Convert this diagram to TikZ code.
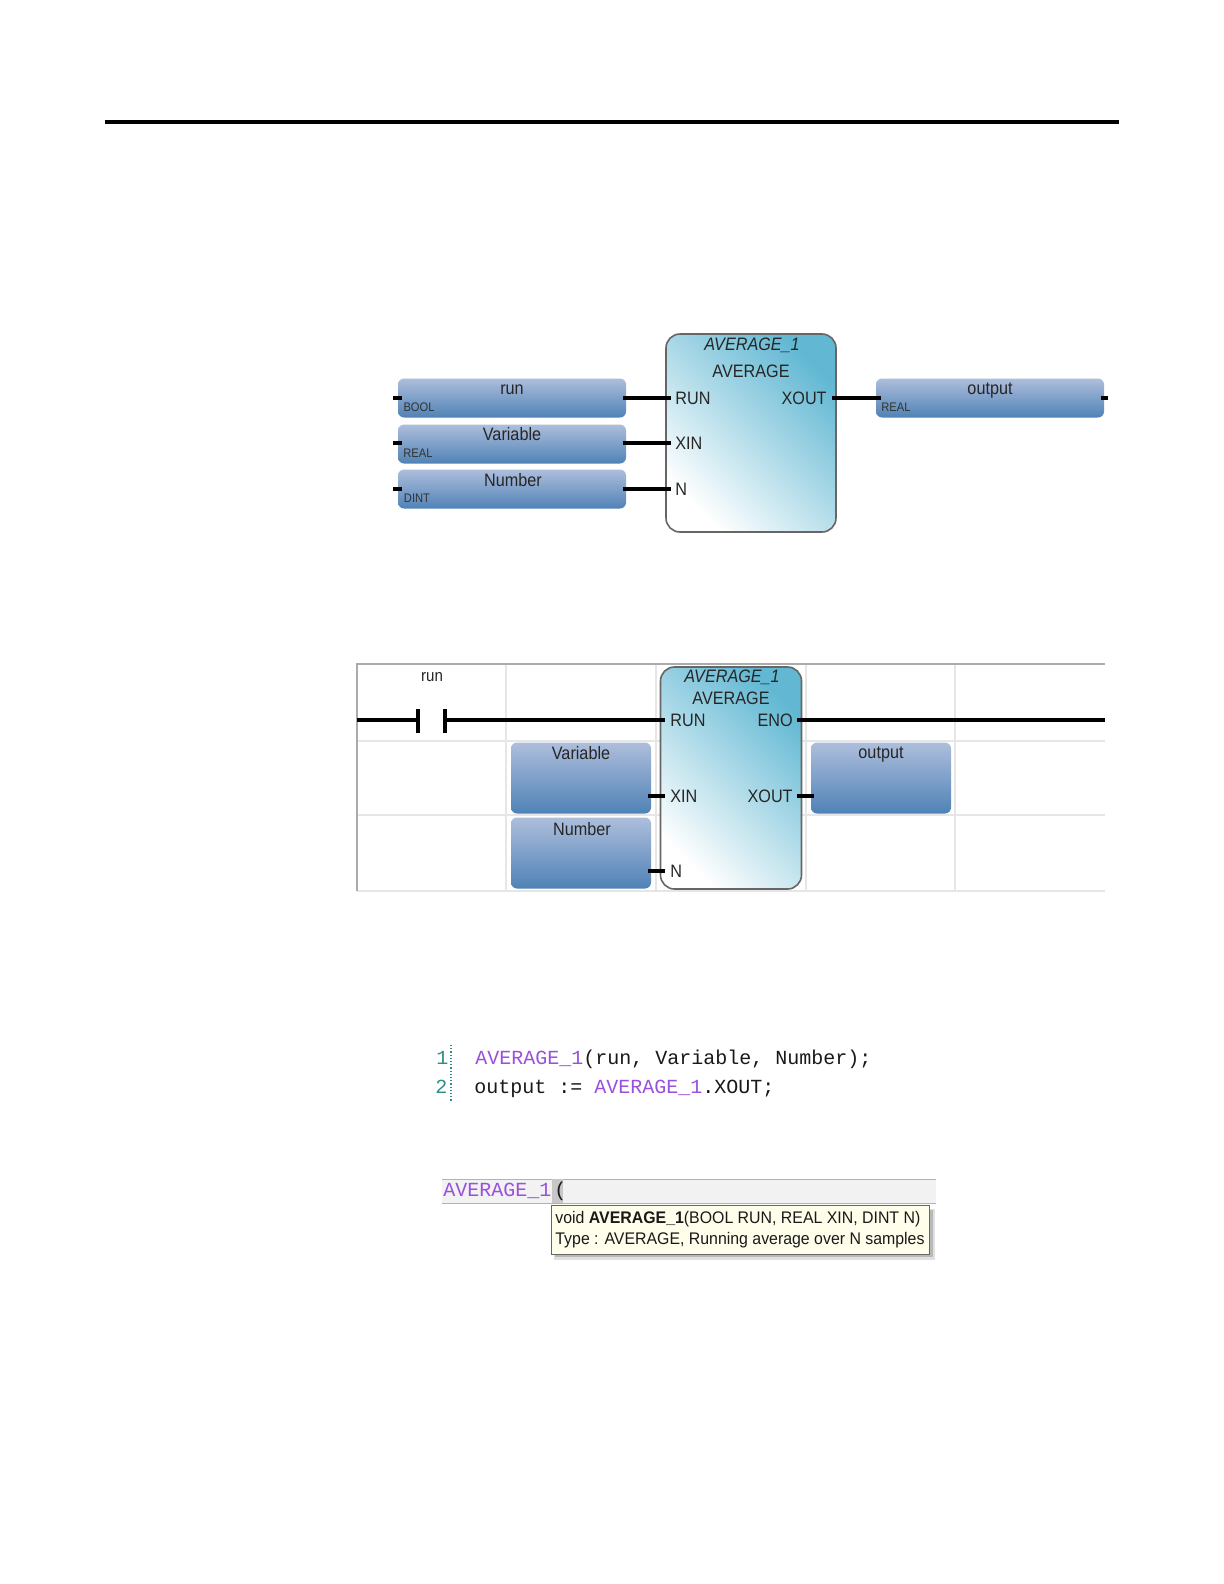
\documentclass[tikz,border=0pt]{standalone}
\usepackage{fontspec}
\setmainfont{Liberation Sans}
\newfontfamily\narrowf[FakeStretch=0.9]{Liberation Sans}
\newfontfamily\codef{Liberation Mono}
\newfontfamily\tipf[FakeStretch=0.945]{Liberation Sans}
\definecolor{codepurple}{HTML}{9A50DC}
\definecolor{linenum}{HTML}{2E8F86}
\definecolor{gridc}{HTML}{E6E6E6}
\definecolor{frameC}{HTML}{ABABAB}
\tikzset{
  x=0.5pt,y=-0.5pt,
  lbl/.style={inner sep=0pt,font=\narrowf\fontsize{9}{10}\selectfont,text=black!85},
  tiny/.style={inner sep=0pt,font=\narrowf\fontsize{6.2}{7}\selectfont,text=black!80},
  ital/.style={inner sep=0pt,font=\narrowf\itshape\fontsize{9}{10}\selectfont,text=black!85},
  varbox/.style={draw=none,inner sep=0pt,rounded corners=3pt,top color=varTop,bottom color=varBot},
  varA/.style={varbox,minimum width=114pt,minimum height=19.5pt},
  varB/.style={varbox,minimum width=70pt,minimum height=35.5pt},
  fblock/.style={draw=black!60,line width=0.8pt,inner sep=0pt,rounded corners=7pt,
     shade,top color=blockTR,middle color=blockM,bottom color=white,shading angle=-45},
  wire/.style={line width=2.1pt,black},
  gridl/.style={line width=0.8pt,gridc},
  code/.style={inner sep=0pt,anchor=base west,font=\codef\fontsize{10}{12}\selectfont,text=black!90},
  tip/.style={inner sep=0pt,anchor=base west,font=\tipf\fontsize{8.4}{10}\selectfont,text=black!90},
}
\definecolor{varTop}{HTML}{AEBEDC}
\definecolor{varBot}{HTML}{4F82B6}
\definecolor{blockTR}{HTML}{62B8D3}
\definecolor{blockM}{HTML}{C6E2EC}
\begin{document}
\begin{tikzpicture}
\useasboundingbox (0,0) rectangle (1224,1584);
\fill[white] (0,0) rectangle (1224,1584);
% top rule
\coordinate (ruleL) at (105,122);
\coordinate (ruleR) at (1119,122);
\draw[line width=1.8pt,black] (ruleL) -- (ruleR);

% ---------- function block diagram
\node[fblock,minimum width=85pt,minimum height=99pt] (avgA) at (751,433) {};
\node[varA] (runA) at (512,398) {};
\node[varA] (varA1) at (512,444) {};
\node[varA] (numA) at (512,489) {};
\node[varA] (outA) at (990,398) {};
\coordinate (pRunA) at (671,398);
\coordinate (pXinA) at (671,443);
\coordinate (pNA) at (671,489);
\coordinate (pXoutA) at (832,398);
\coordinate (sRunA) at (393,398);
\coordinate (sVarA) at (393,443);
\coordinate (sNumA) at (393,489);
\coordinate (sOutA) at (1108,398);
\coordinate (iRunA) at (402,398);
\coordinate (iVarA) at (402,443);
\coordinate (iNumA) at (402,489);
\coordinate (iOutA) at (1101,398);
\coordinate (eRunA) at (623,398);
\coordinate (eVarA) at (623,443);
\coordinate (eNumA) at (623,489);
\coordinate (eOutA) at (881,398);
\draw[wire] (eRunA) -- (pRunA);
\draw[wire] (eVarA) -- (pXinA);
\draw[wire] (eNumA) -- (pNA);
\draw[wire] (pXoutA) -- (eOutA);
\draw[wire] (sRunA) -- (iRunA);
\draw[wire] (sVarA) -- (iVarA);
\draw[wire] (sNumA) -- (iNumA);
\draw[wire] (iOutA) -- (sOutA);
\node[lbl] (tRunA) at (512,390) {run};
\node[lbl] (tVarA) at (512,434) {Variable};
\node[lbl] (tNumA) at (513,480) {Number};
\node[lbl] (tOutA) at (990,391) {output};
\node[tiny] (tBool) at (419,407) {BOOL};
\node[tiny] (tReal) at (418,453) {REAL};
\node[tiny] (tDint) at (417,498) {DINT};
\node[tiny] (tReal2) at (896,407) {REAL};
\node[ital] (tInstA) at (752,345) {AVERAGE\_1};
\node[lbl] (tTypeA) at (751,371) {AVERAGE};
\node[lbl,anchor=west] (lRunA) at (675,398) {RUN};
\node[lbl,anchor=east] (lXoutA) at (827,398) {XOUT};
\node[lbl,anchor=west] (lXinA) at (675,443) {XIN};
\node[lbl,anchor=west] (lNA) at (675,489) {N};

% ---------- ladder diagram
\coordinate (gT) at (357,664);
\coordinate (gTR) at (1105,664);
\coordinate (gBL) at (357,891);
\coordinate (gBR) at (1105,891);
\foreach \gx in {506,656,806,955}{
  \draw[gridl] (\gx,664) -- (\gx,891);
}
\draw[gridl,line width=1.2pt] (357,741) -- (1105,741);
\draw[gridl,line width=1.2pt] (357,815) -- (1105,815);
\draw[gridl] (gBL) -- (gBR);
\draw[frameC,line width=0.6pt] (gBL) -- (gT) -- (gTR);
\node[fblock,minimum width=70.5pt,minimum height=111pt] (avgB) at (731,778) {};
\node[varB] (varB1) at (581,778) {};
\node[varB] (numB) at (581,853) {};
\node[varB] (outB) at (881,778) {};
\coordinate (wL) at (357,720);
\coordinate (c1) at (418,720);
\coordinate (c2) at (445,720);
\coordinate (c1t) at (418,709);
\coordinate (c1b) at (418,733);
\coordinate (c2t) at (445,709);
\coordinate (c2b) at (445,733);
\coordinate (pRunB) at (665,720);
\coordinate (pEnoB) at (797,720);
\coordinate (wR) at (1105,720);
\coordinate (sXin) at (648,796);
\coordinate (pXin) at (665,796);
\coordinate (pXout) at (797,796);
\coordinate (sXout) at (814,796);
\coordinate (sN) at (648,871);
\coordinate (pN) at (665,871);
\draw[wire] (wL) -- (c1);
\draw[wire] (c2) -- (pRunB);
\draw[wire] (pEnoB) -- (wR);
\draw[line width=1.6pt] (c1t) -- (c1b);
\draw[line width=1.6pt] (c2t) -- (c2b);
\draw[wire] (sXin) -- (pXin);
\draw[wire] (pXout) -- (sXout);
\draw[wire] (sN) -- (pN);
\node[lbl,font=\narrowf\fontsize{8.4}{10}\selectfont] (tRunB) at (432,677) {run};
\node[ital] (tInstB) at (732,677) {AVERAGE\_1};
\node[lbl] (tTypeB) at (731,698) {AVERAGE};
\node[lbl,anchor=west] (lRunB) at (670,720) {RUN};
\node[lbl,anchor=east] (lEnoB) at (793,720) {ENO};
\node[lbl,anchor=west] (lXinB) at (670,796) {XIN};
\node[lbl,anchor=east] (lXoutB) at (793,796) {XOUT};
\node[lbl,anchor=west] (lNB) at (670,871) {N};
\node[lbl] (tVarB) at (581,753) {Variable};
\node[lbl] (tNumB) at (582,829) {Number};
\node[lbl] (tOutB) at (881,755) {output};

% ---------- structured text
\node[code,text=linenum] (n1) at (436,1064) {1};
\node[code,text=linenum] (n2) at (435,1093) {2};
\coordinate (dotT) at (451,1045);
\coordinate (dotB) at (451,1102);
\draw[linenum,densely dotted,line width=0.6pt] (dotT) -- (dotB);
\node[code] (l1) at (475,1064) {\textcolor{codepurple}{AVERAGE\_1}(run, Variable, Number);};
\node[code] (l2) at (474,1093) {output := \textcolor{codepurple}{AVERAGE\_1}.XOUT;};

% ---------- tooltip
\fill[black!5] (442,1179) rectangle (936,1203);
\draw[black!30,line width=0.5pt] (442,1179) -- (936,1179);
\draw[black!30,line width=0.5pt] (442,1203) -- (936,1203);
\fill[black!22] (552,1179) rectangle (563,1203);
\node[code] (auto) at (443,1196) {\textcolor{codepurple}{AVERAGE\_1}};
\node[code] (paren) at (554,1196) {(};
\fill[black!12] (554,1209) rectangle (935,1260);
\fill[black!28] (555,1210) rectangle (933,1257);
\node[draw=black!60,fill=yellow!8,line width=0.5pt,inner sep=0pt,minimum width=189pt,minimum height=24.5pt] (tipbox) at (740,1230) {};
\node[tip] (t1) at (555,1223) {void \textbf{AVERAGE\_1}(BOOL RUN, REAL XIN, DINT N)};
\node[tip] (t2) at (555,1244) {Type : AVERAGE, Running average over N samples};
\end{tikzpicture}
\end{document}
